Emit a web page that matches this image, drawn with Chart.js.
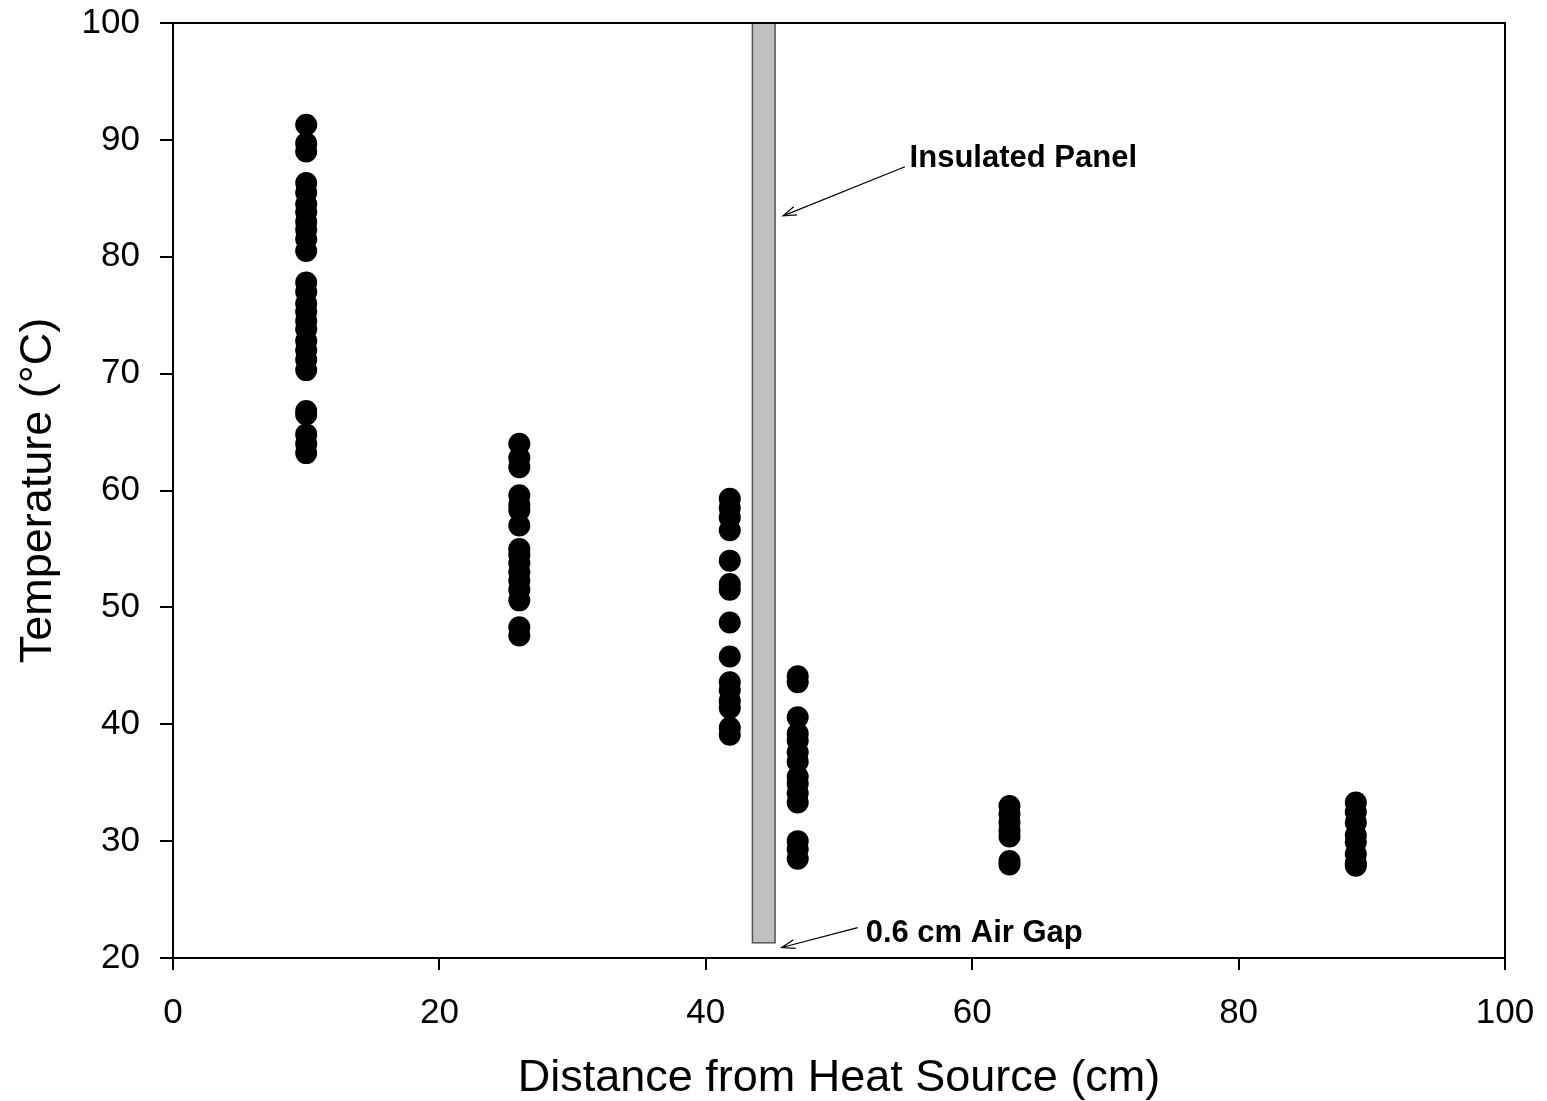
<!DOCTYPE html>
<html>
<head>
<meta charset="utf-8">
<script src="https://cdn.jsdelivr.net/npm/chart.js@4.4.1/dist/chart.umd.min.js"></script>
<style>
  html, body { margin: 0; padding: 0; background: #fff; }
  #wrap { width: 1547px; height: 1101px; }
</style>
</head>
<body>
<div id="wrap"><canvas id="chart"></canvas></div>
<script>
// measured temperatures, grouped by probe distance (cm)
var distances = [10, 26, 41.8, 46.9, 62.8, 88.8];
var temps10 = [91.3, 89.7, 89.0, 86.3, 85.5, 84.5, 83.8, 83.0, 82.3, 81.5, 80.5, 77.8, 77.0, 76.0, 75.3, 74.5, 73.8, 72.8, 72.0, 71.2, 70.3, 66.8, 66.5, 64.8, 64.0, 63.2];
var temps26 = [64.0, 62.8, 62.0, 59.6, 58.8, 58.3, 57.0, 55.0, 54.5, 53.8, 53.0, 52.3, 51.5, 50.6, 48.3, 47.6];
var temps42 = [59.3, 58.5, 57.7, 56.6, 54.0, 52.0, 51.5, 48.7, 45.8, 43.6, 42.9, 42.0, 41.4, 39.7, 39.1];
var temps47 = [44.1, 43.6, 40.6, 39.2, 38.6, 37.6, 36.8, 35.5, 34.9, 34.1, 33.3, 30.0, 29.3, 28.5];
var temps63 = [33.0, 32.3, 31.6, 30.9, 30.4, 28.3, 28.0];
var temps89 = [33.3, 32.5, 31.6, 30.5, 29.9, 28.9, 28.1, 27.9];
var allTemps = [temps10, temps26, temps42, temps47, temps63, temps89];

// panel and labels
var panelX = [43.5, 45.2];
var panelY = [21.3, 100];
var panelLabel = "Insulated Panel";
var gapLabel = "0.6 cm Air Gap";

var xTicks = [0, 20, 40, 60, 80, 100];
var yTicks = [20, 30, 40, 50, 60, 70, 80, 90, 100];

var FONT = "'Liberation Sans', Arial, sans-serif";

var points = [];
for (var i = 0; i < distances.length; i++) {
  for (var j = 0; j < allTemps[i].length; j++) {
    points.push({ x: distances[i], y: allTemps[i][j] });
  }
}

function arrow(ctx, x1, y1, x2, y2) {
  var ang = Math.atan2(y2 - y1, x2 - x1);
  var len = 14, spread = 0.32;
  ctx.beginPath();
  ctx.moveTo(x1, y1);
  ctx.lineTo(x2, y2);
  ctx.moveTo(x2 - len * Math.cos(ang - spread), y2 - len * Math.sin(ang - spread));
  ctx.lineTo(x2, y2);
  ctx.lineTo(x2 - len * Math.cos(ang + spread), y2 - len * Math.sin(ang + spread));
  ctx.stroke();
}

var decorations = {
  id: 'decorations',
  beforeDatasetsDraw: function(chart) {
    var ctx = chart.ctx, xs = chart.scales.x, ys = chart.scales.y;
    var l = xs.getPixelForValue(panelX[0]), r = xs.getPixelForValue(panelX[1]);
    var t = ys.getPixelForValue(panelY[1]), b = ys.getPixelForValue(panelY[0]);
    ctx.save();
    ctx.fillStyle = '#c0c0c0';
    ctx.fillRect(l, t, r - l, b - t);
    ctx.strokeStyle = '#555';
    ctx.lineWidth = 1.5;
    ctx.strokeRect(l, t, r - l, b - t);
    ctx.restore();
  },
  afterDraw: function(chart) {
    var ctx = chart.ctx, xs = chart.scales.x, ys = chart.scales.y, a = chart.chartArea;
    ctx.save();
    // frame
    ctx.strokeStyle = '#000';
    ctx.lineWidth = 2;
    ctx.strokeRect(a.left, a.top, a.right - a.left, a.bottom - a.top);
    // annotations
    ctx.lineWidth = 1.2;
    arrow(ctx, xs.getPixelForValue(54.95), ys.getPixelForValue(87.7), xs.getPixelForValue(45.8), ys.getPixelForValue(83.5));
    arrow(ctx, xs.getPixelForValue(51.4), ys.getPixelForValue(22.6), xs.getPixelForValue(45.7), ys.getPixelForValue(20.9));
    ctx.fillStyle = '#000';
    ctx.font = 'bold 31px ' + FONT;
    ctx.textBaseline = 'middle';
    ctx.textAlign = 'left';
    ctx.fillText(panelLabel, xs.getPixelForValue(55.3), ys.getPixelForValue(88.45));
    ctx.fillText(gapLabel, xs.getPixelForValue(52.0), ys.getPixelForValue(22.1));
    ctx.restore();
  }
};

new Chart(document.getElementById('chart'), {
  type: 'scatter',
  data: {
    datasets: [{
      data: points,
      backgroundColor: '#000',
      borderColor: '#000',
      pointRadius: 11,
      pointHoverRadius: 11,
      borderWidth: 0
    }]
  },
  options: {
    responsive: true,
    maintainAspectRatio: false,
    animation: false,
    events: [],
    layout: { padding: { left: 0, right: 42, top: 23, bottom: 0 } },
    plugins: { legend: { display: false }, tooltip: { enabled: false } },
    scales: {
      x: {
        type: 'linear', min: 0, max: 100,
        afterBuildTicks: function(s) { s.ticks = xTicks.map(function(v) { return { value: v }; }); },
        afterFit: function(s) { s.height = 143; s.paddingLeft = 0; s.paddingRight = 0; },
        grid: { display: true, drawOnChartArea: false, drawTicks: true, tickLength: 12, tickColor: '#000', lineWidth: 2 },
        border: { color: '#000', width: 2 },
        ticks: { color: '#000', font: { family: FONT, size: 35 }, padding: 22, maxRotation: 0 },
        title: { display: true, text: 'Distance from Heat Source (cm)', color: '#000', font: { family: FONT, size: 45, lineHeight: 1 }, padding: { top: 4, bottom: 0 } }
      },
      y: {
        type: 'linear', min: 20, max: 100,
        afterBuildTicks: function(s) { s.ticks = yTicks.map(function(v) { return { value: v }; }); },
        afterFit: function(s) { s.width = 173; s.paddingTop = 0; s.paddingBottom = 0; },
        grid: { display: true, drawOnChartArea: false, drawTicks: true, tickLength: 13, tickColor: '#000', lineWidth: 2 },
        border: { color: '#000', width: 2 },
        ticks: { color: '#000', font: { family: FONT, size: 35 }, padding: 20 },
        title: { display: true, text: 'Temperature (°C)', color: '#000', font: { family: FONT, size: 45, lineHeight: 1 }, padding: { top: 16, bottom: 0 } }
      }
    }
  },
  plugins: [decorations]
});
</script>
</body>
</html>
